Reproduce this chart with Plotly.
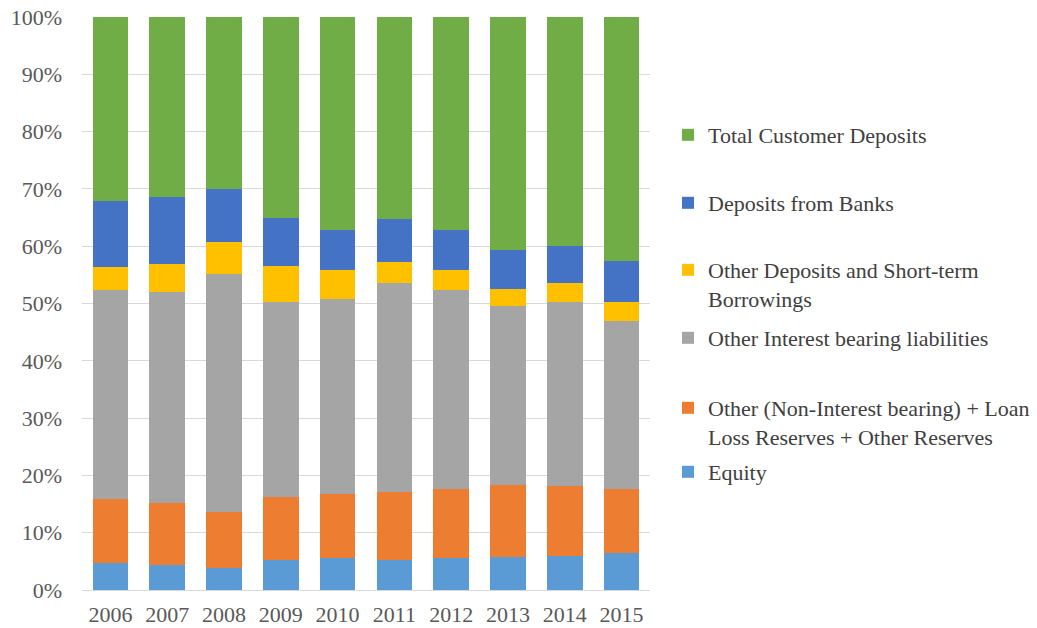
import plotly.graph_objects as go

# Funding structure, share of total liabilities and equity (%)
years = ["2006", "2007", "2008", "2009", "2010", "2011", "2012", "2013", "2014", "2015"]

equity = [4.7, 4.3, 3.9, 5.2, 5.5, 5.2, 5.5, 5.8, 6.0, 6.4]
other_non_interest = [11.2, 10.9, 9.7, 11.1, 11.3, 11.9, 12.2, 12.5, 12.2, 11.3]
other_interest_bearing = [36.5, 36.8, 41.6, 34.0, 34.0, 36.5, 34.7, 31.2, 32.0, 29.3]
other_deposits_short_term = [4.0, 4.9, 5.5, 6.2, 5.1, 3.7, 3.5, 3.0, 3.4, 3.3]
deposits_from_banks = [11.5, 11.7, 9.3, 8.4, 7.0, 7.4, 7.0, 6.9, 6.5, 7.2]
total_customer_deposits = [32.1, 31.4, 30.0, 35.1, 37.1, 35.3, 37.1, 40.6, 39.9, 42.5]

y_ticks = list(range(0, 101, 10))
y_tick_labels = [f"{v}%" for v in y_ticks]

# (name shown in legend, values, colour, legend id, first-line centre in px)
series = [
    ("Equity", equity, "#5B9BD5", "legend6", 474),
    ("Other (Non-Interest bearing) + Loan<br>Loss Reserves + Other Reserves",
     other_non_interest, "#ED7D31", "legend5", 410),
    ("Other Interest bearing liabilities", other_interest_bearing, "#A5A5A5", "legend4", 340),
    ("Other Deposits and Short-term<br>Borrowings", other_deposits_short_term, "#FFC000", "legend3", 272),
    ("Deposits from Banks", deposits_from_banks, "#4472C4", "legend2", 205),
    ("Total Customer Deposits", total_customer_deposits, "#70AD47", "legend", 137),
]

W, H = 1037, 628
FONT = "Liberation Serif, Times New Roman, serif"
TEXT = "#595959"

fig = go.Figure()
for name, vals, color, leg, _ in series:
    fig.add_trace(go.Bar(
        x=years, y=vals, name=name, legend=leg,
        marker=dict(color=color, line=dict(width=0)),
    ))

layout_legends = {}
for name, vals, color, leg, cy in series:
    layout_legends[leg] = dict(
        xref="container", yref="container",
        x=668 / W, y=1 - (cy - 23) / H,
        xanchor="left", yanchor="top",
        valign="top",
        font=dict(family=FONT, size=22, color="#404040"),
        bgcolor="rgba(0,0,0,0)", borderwidth=0,
    )

fig.update_layout(
    width=W, height=H,
    margin=dict(l=82, r=W - 650, t=17, b=H - 590, pad=0, autoexpand=False),
    barmode="stack", bargap=0.37,
    plot_bgcolor="white", paper_bgcolor="white",
    font=dict(family=FONT, size=22, color=TEXT),
    showlegend=True,
    **layout_legends,
)
fig.update_xaxes(
    showgrid=False, showline=True, linecolor="#D9D9D9", linewidth=1,
    ticks="", tickfont=dict(family=FONT, size=22, color=TEXT),
    ticklabelstandoff=5, automargin=False,
)
fig.update_yaxes(
    range=[0, 100], tickmode="array", tickvals=y_ticks, ticktext=y_tick_labels,
    showgrid=True, gridcolor="#D9D9D9", gridwidth=1,
    zeroline=False, showline=False, ticks="",
    tickfont=dict(family=FONT, size=22, color=TEXT),
    ticklabelstandoff=19, automargin=False,
)

fig.write_html("out.html")
